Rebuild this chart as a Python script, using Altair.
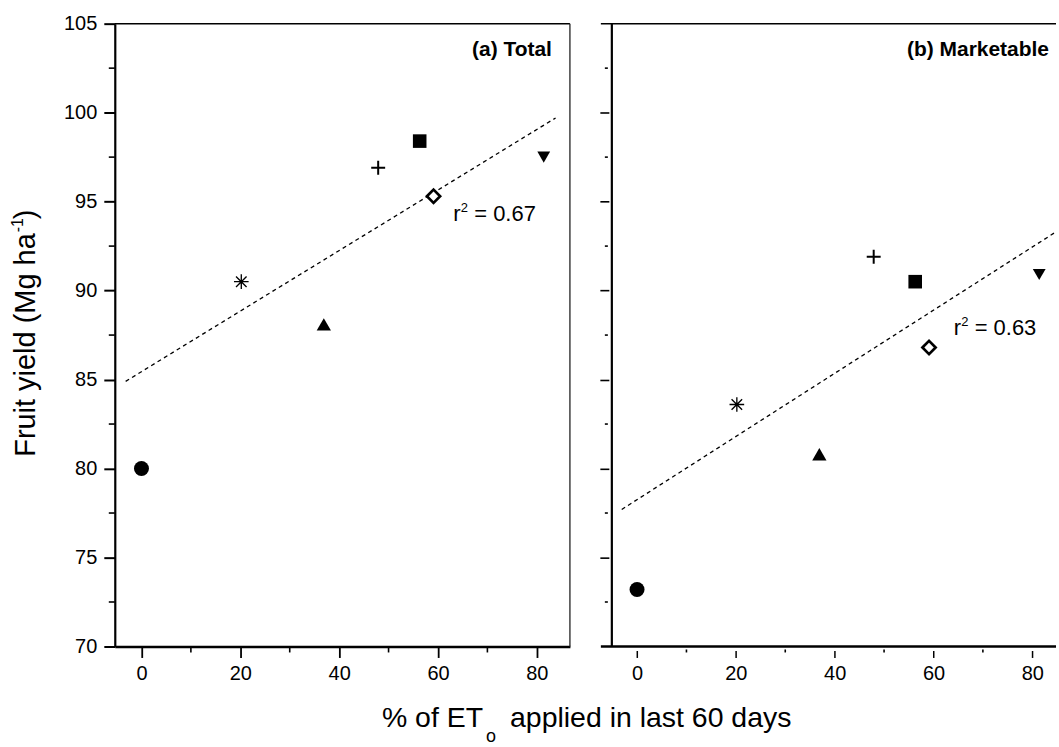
import altair as alt
import pandas as pd

# ---------------- data ----------------
treatments = ["T1", "T2", "T3", "T4", "T5", "T6", "T7"]
et_applied = [0.0, 20.2, 36.9, 47.9, 56.3, 59.1, 81.4]
yield_total = [80.0, 90.5, 88.1, 96.9, 98.4, 95.3, 97.5]
yield_market = [73.2, 83.6, 80.8, 91.9, 90.5, 86.8, 90.9]

fit_total_x = [-3.2, 83.8]
fit_total_y = [84.9, 99.7]
fit_market_x = [-3.1, 84.8]
fit_market_y = [77.7, 93.3]

r2_total = "0.67"
r2_total_pos = [63.1, 93.9]
r2_market = "0.63"
r2_market_pos = [64.1, 87.5]

y_ticks = [70, 75, 80, 85, 90, 95, 100, 105]
y_minor = [72.5, 77.5, 82.5, 87.5, 92.5, 97.5, 102.5]
x_ticks = [0, 20, 40, 60, 80]
x_minor = [10, 30, 50, 70]

panel_titles = ["(a) Total", "(b) Marketable"]
y_title = ["Fruit yield (Mg ha", "-1", ")"]
x_title = ["% of ET", "o", "applied in last 60 days"]

# ---------------- styles ----------------
FONT = "Liberation Sans"
W1, W2, H = 456, 445, 624
XDOM1 = [-5.4, 86.7]
XDOM2 = [-5.1, 84.8]
YDOM = [70, 105]

ASTERISK = "M-1,0H1M0,-1V1M-0.72,-0.72L0.72,0.72M-0.72,0.72L0.72,-0.72"
PLUS = "M-1,0H1M0,-1V1"
shape_map = {"T1": "circle", "T2": ASTERISK, "T3": "triangle-up", "T4": PLUS,
             "T5": "square", "T6": "diamond", "T7": "triangle-down"}
size_map = {"T1": 225, "T2": 165, "T3": 260, "T4": 155, "T5": 135, "T6": 150, "T7": 285}
sw_map = {"T1": 1, "T2": 3.0, "T3": 1, "T4": 2.1, "T5": 1, "T6": 2.0, "T7": 1}
filled_set = ["T1", "T3", "T5", "T7"]
open_set = ["T2", "T4", "T6"]

shape_scale = alt.Scale(domain=treatments, range=[shape_map[t] for t in treatments])
size_scale = alt.Scale(domain=treatments, range=[size_map[t] for t in treatments])
sw_scale = alt.Scale(domain=treatments, range=[sw_map[t] for t in treatments])

one = pd.DataFrame({"a": [0]})


def panel(yvals, fitx, fity, r2val, r2pos, title, xdom, W, is_left):
    xs = alt.Scale(domain=xdom, nice=False, zero=False)
    ys = alt.Scale(domain=YDOM, nice=False, zero=False)
    common = dict(title=None, grid=False, labelFont=FONT, labelFontSize=20,
                  labelColor="black", tickColor="black", domainColor="black",
                  labelFlush=False, labelOverlap=False)
    if is_left:
        xaxis = alt.Axis(values=x_ticks, tickSize=11, tickWidth=1.8, domainWidth=2.5,
                         labelPadding=6, **common)
        yaxis = alt.Axis(values=y_ticks, tickSize=11, tickWidth=2, domainWidth=2.2,
                         labelPadding=7, **common)
    else:
        xaxis = alt.Axis(values=x_ticks, tickSize=7, tickWidth=1.5, domain=False,
                         offset=4, labelPadding=6, **common)
        yaxis = alt.Axis(values=y_ticks[1:-1], tickSize=9, tickWidth=1.6, domain=False,
                         offset=3, labels=False, **common)

    X = alt.X("x:Q", scale=xs, axis=xaxis)
    Y = alt.Y("y:Q", scale=ys, axis=yaxis)

    pts = pd.DataFrame({"treatment": treatments, "x": et_applied, "y": yvals})
    fit = pd.DataFrame({"x": fitx, "y": fity})
    r2 = pd.DataFrame({"x": [r2pos[0]], "y": [r2pos[1]], "label": ["= " + r2val]})

    layers = []
    layers.append(alt.Chart(fit).mark_line(color="black", strokeWidth=1.3,
                                           strokeDash=[4, 3.5]).encode(x=X, y=Y))
    layers.append(
        alt.Chart(pts).transform_filter(
            alt.FieldOneOfPredicate(field="treatment", oneOf=filled_set)
        ).mark_point(filled=True, color="black", opacity=1).encode(
            x=X, y=Y,
            shape=alt.Shape("treatment:N", scale=shape_scale, legend=None),
            size=alt.Size("treatment:N", scale=size_scale, legend=None),
        )
    )
    layers.append(
        alt.Chart(pts).transform_filter(
            alt.FieldOneOfPredicate(field="treatment", oneOf=open_set)
        ).mark_point(filled=True, fill="white", stroke="black", opacity=1).encode(
            x=X, y=Y,
            shape=alt.Shape("treatment:N", scale=shape_scale, legend=None),
            size=alt.Size("treatment:N", scale=size_scale, legend=None),
            strokeWidth=alt.StrokeWidth("treatment:N", scale=sw_scale, legend=None),
        )
    )
    # r^2 annotation
    layers.append(alt.Chart(r2).mark_text(text="r", align="left", baseline="alphabetic",
                                          font=FONT, fontSize=22, color="black").encode(x=X, y=Y))
    layers.append(alt.Chart(r2).mark_text(text="2", align="left", baseline="alphabetic",
                                          font=FONT, fontSize=13, color="black",
                                          dx=7.5, dy=-9).encode(x=X, y=Y))
    layers.append(alt.Chart(r2).mark_text(align="left", baseline="alphabetic",
                                          font=FONT, fontSize=22, color="black",
                                          dx=21).encode(x=X, y=Y, text="label:N"))
    # minor ticks
    if is_left:
        layers.append(alt.Chart(pd.DataFrame({"y": y_minor})).mark_rule(
            color="black", strokeWidth=1.6).encode(y=Y, x=alt.value(-6), x2=alt.value(0)))
        layers.append(alt.Chart(pd.DataFrame({"x": x_minor})).mark_rule(
            color="black", strokeWidth=1.6).encode(x=X, y=alt.value(H), y2=alt.value(H + 6)))
        # frame top and right
        layers.append(alt.Chart(one).mark_rule(color="black", strokeWidth=1.5).encode(
            x=alt.value(0), x2=alt.value(W), y=alt.value(0)))
        layers.append(alt.Chart(one).mark_rule(color="#222222", strokeWidth=1.3).encode(
            x=alt.value(W), y=alt.value(0), y2=alt.value(H)))
    else:
        layers.append(alt.Chart(pd.DataFrame({"y": y_minor})).mark_rule(
            color="black", strokeWidth=1.6).encode(y=Y, x=alt.value(-7), x2=alt.value(-4)))
        layers.append(alt.Chart(pd.DataFrame({"x": x_minor})).mark_rule(
            color="black", strokeWidth=1.6).encode(x=X, y=alt.value(H + 3), y2=alt.value(H + 6)))
        # axis lines and top frame
        layers.append(alt.Chart(one).mark_rule(color="black", strokeWidth=2.2).encode(
            x=alt.value(0), y=alt.value(0), y2=alt.value(H)))
        layers.append(alt.Chart(one).mark_rule(color="black", strokeWidth=2.5).encode(
            x=alt.value(-11), x2=alt.value(W), y=alt.value(H)))
        layers.append(alt.Chart(one).mark_rule(color="black", strokeWidth=1.5).encode(
            x=alt.value(-11), x2=alt.value(W), y=alt.value(0)))
    # panel title
    layers.append(alt.Chart(one).mark_text(text=title, align="right", baseline="alphabetic",
                                           font=FONT, fontSize=21, fontWeight="bold",
                                           color="black").encode(
        x=alt.value(438), y=alt.value(32)))

    if is_left:
        # y axis title (rotated), with superscript
        y0 = 210
        layers.append(alt.Chart(one).mark_text(text=y_title[0], angle=270, align="right",
                                               baseline="alphabetic", font=FONT, fontSize=29,
                                               color="black").encode(
            x=alt.value(-80), y=alt.value(y0)))
        layers.append(alt.Chart(one).mark_text(text=y_title[1], angle=270, align="left",
                                               baseline="alphabetic", font=FONT, fontSize=16,
                                               color="black").encode(
            x=alt.value(-92), y=alt.value(y0 - 1)))
        layers.append(alt.Chart(one).mark_text(text=y_title[2], angle=270, align="left",
                                               baseline="alphabetic", font=FONT, fontSize=29,
                                               color="black").encode(
            x=alt.value(-80), y=alt.value(y0 - 14)))
        # x axis title (spans both panels), with subscript
        layers.append(alt.Chart(one).mark_text(text=x_title[0], align="right",
                                               baseline="alphabetic", font=FONT, fontSize=28.5,
                                               color="black").encode(
            x=alt.value(369), y=alt.value(705)))
        layers.append(alt.Chart(one).mark_text(text=x_title[1], align="left",
                                               baseline="bottom", font=FONT, fontSize=18,
                                               color="black").encode(
            x=alt.value(372), y=alt.value(724)))
        layers.append(alt.Chart(one).mark_text(text=x_title[2], align="left",
                                               baseline="alphabetic", font=FONT, fontSize=28.5,
                                               color="black").encode(
            x=alt.value(396), y=alt.value(705)))
        # invisible anchor fixing the page's top-left corner
        layers.append(alt.Chart(one).mark_rect(opacity=0).encode(
            x=alt.value(-115), x2=alt.value(0), y=alt.value(-23), y2=alt.value(0)))

    return alt.layer(*layers).properties(width=W, height=H)


left = panel(yield_total, fit_total_x, fit_total_y, r2_total, r2_total_pos,
             panel_titles[0], XDOM1, W1, True)
right = panel(yield_market, fit_market_x, fit_market_y, r2_market, r2_market_pos,
              panel_titles[1], XDOM2, W2, False)

chart = alt.hconcat(left, right, spacing=42, bounds="flush").properties(
    padding=0, background="white"
).configure_view(stroke=None)

chart.save("out.html", embed_options={"renderer": "svg", "actions": False})
